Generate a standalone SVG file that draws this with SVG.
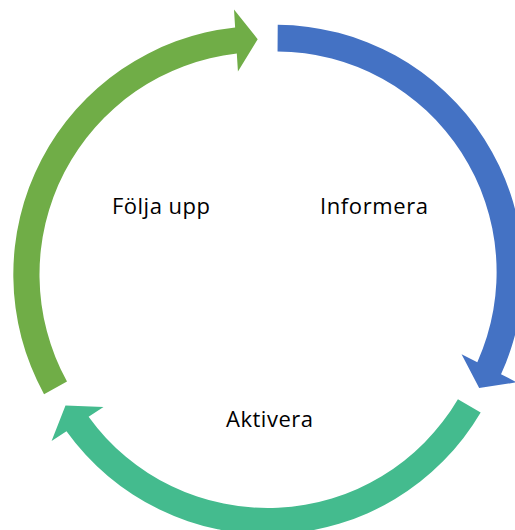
<svg xmlns="http://www.w3.org/2000/svg" width="515" height="530" viewBox="0 0 515 530">
  <style>
    .lbl { font-family: "Open Sans", "Liberation Sans", sans-serif; font-size: 22px; fill: #000000; }
    .blue { fill: #4472C4; }
    .teal { fill: #44BB8E; }
    .green { fill: #70AD47; }
  </style>
  <rect x="0" y="0" width="515" height="530" fill="#FFFFFF"/>
  <g id="node-informera">
    <path class="blue" d="M277.73,24.81 A247.2,247.2 0 0 1 501.03,374.29 L516.80,382.33 L479.17,387.89 L461.56,354.17 L477.33,362.21 A220.6,220.6 0 0 0 277.54,51.41 Z"/>
    <text class="lbl" x="320" y="214" textLength="108">Informera</text>
  </g>
  <g id="node-aktivera">
    <path class="teal" d="M480.67,412.57 A247.4,247.4 0 0 1 66.49,431.21 L51.58,440.93 L65.50,405.51 L103.52,407.07 L88.61,416.79 A221,221 0 0 0 457.92,399.17 Z"/>
    <text class="lbl" x="226" y="427" textLength="87">Aktivera</text>
  </g>
  <g id="node-folja-upp">
    <path class="green" d="M44.04,394.21 A248.5,248.5 0 0 1 235.14,27.45 L234.0,9.58 L257.69,39.14 L237.94,71.46 L236.80,53.59 A222.3,222.3 0 0 0 67.0,381.59 Z"/>
    <text class="lbl" x="112" y="214" textLength="98">Följa upp</text>
  </g>
  <g id="connectors"></g>
</svg>
